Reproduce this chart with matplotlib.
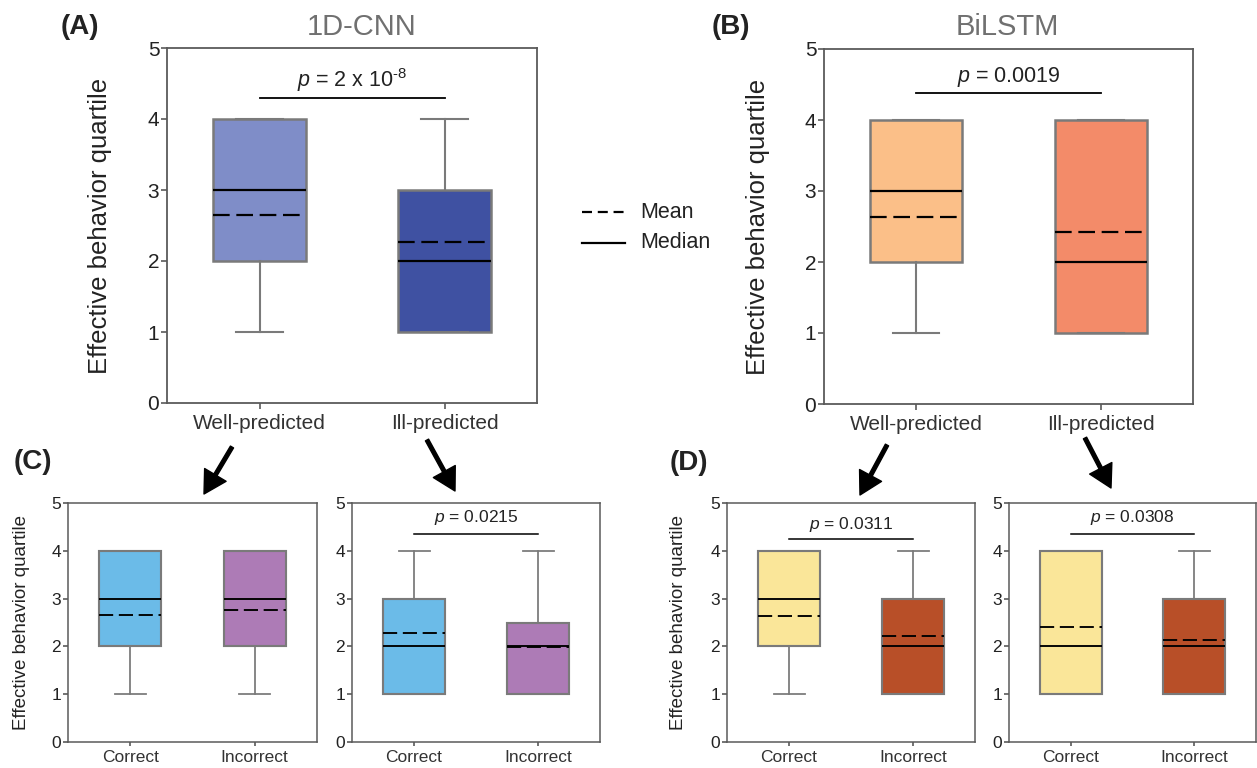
import matplotlib
matplotlib.use('Agg')
import matplotlib.pyplot as plt
from matplotlib.lines import Line2D

plt.rcParams['font.family'] = ['Liberation Sans', 'DejaVu Sans']
plt.rcParams['mathtext.fontset'] = 'custom'
plt.rcParams['mathtext.rm'] = 'Liberation Sans'
plt.rcParams['mathtext.it'] = 'Liberation Sans:italic'

# ---------------- data ----------------
top_categories = ['Well-predicted', 'Ill-predicted']
bottom_categories = ['Correct', 'Incorrect']

# (A) 1D-CNN
cnn_lo = [1, 1]
cnn_q1 = [2, 1]
cnn_med = [3, 2]
cnn_q3 = [4, 3]
cnn_hi = [4, 4]
cnn_mean = [2.65, 2.27]

# (B) BiLSTM
lstm_lo = [1, 1]
lstm_q1 = [2, 1]
lstm_med = [3, 2]
lstm_q3 = [4, 4]
lstm_hi = [4, 4]
lstm_mean = [2.64, 2.42]

# (C) 1D-CNN, well-predicted split
cw_lo = [1, 1]
cw_q1 = [2, 2]
cw_med = [3, 3]
cw_q3 = [4, 4]
cw_hi = [4, 4]
cw_mean = [2.66, 2.76]

# (C) 1D-CNN, ill-predicted split
ci_lo = [1, 1]
ci_q1 = [1, 1]
ci_med = [2, 2]
ci_q3 = [3, 2.5]
ci_hi = [4, 4]
ci_mean = [2.27, 1.99]

# (D) BiLSTM, well-predicted split
dw_lo = [1, 1]
dw_q1 = [2, 1]
dw_med = [3, 2]
dw_q3 = [4, 3]
dw_hi = [4, 4]
dw_mean = [2.64, 2.22]

# (D) BiLSTM, ill-predicted split
di_lo = [1, 1]
di_q1 = [1, 1]
di_med = [2, 2]
di_q3 = [4, 3]
di_hi = [4, 4]
di_mean = [2.41, 2.13]

p_texts = [r'$p$ = 2 x 10$^{\text{-8}}$', r'$p$ = 0.0019', None,
           r'$p$ = 0.0215', r'$p$ = 0.0311', r'$p$ = 0.0308']

cnn_colors = ['#7f8dc8', '#3f51a2']
lstm_colors = ['#fbbf88', '#f38b69']
c_colors = ['#6bbbe8', '#ad7bb6']
d_colors = ['#fae699', '#b84f28']

# ---------------- figure ----------------
W, H = 1257, 768
fig = plt.figure(figsize=(W / 100, H / 100), dpi=100)

EDGE = '#7a7a7a'
SPINE = '#5a5a5a'


def rect(l, r, t, b):
    return [l / W, 1 - b / H, (r - l) / W, (b - t) / H]


def make_stats(lo, q1, med, q3, hi, mean, labels):
    return [dict(whislo=lo[i], q1=q1[i], med=med[i], q3=q3[i], whishi=hi[i],
                 mean=mean[i], label=labels[i]) for i in range(len(labels))]


def panel(ax, stats, colors, big, ptext=None, py=None, ty=None, ylabel_x=-0.15):
    scale = 1.0 if big else 0.85
    bp = ax.bxp(stats, positions=[0, 1], widths=0.5, patch_artist=True,
                showmeans=True, meanline=True, showfliers=False, capwidths=0.25,
                boxprops=dict(edgecolor=EDGE, linewidth=1.8 * scale),
                whiskerprops=dict(color=EDGE, linewidth=1.5 * scale),
                capprops=dict(color=EDGE, linewidth=1.5 * scale),
                medianprops=dict(color='black', linewidth=1.6 * scale),
                meanprops=dict(color='black', linewidth=1.6 * scale,
                               linestyle=(0, (7.5, 3))))
    for patch, c in zip(bp['boxes'], colors):
        patch.set_facecolor(c)
    ax.set_xlim(-0.5, 1.5)
    ax.set_ylim(0, 5)
    ax.set_yticks(range(6))
    fs_tick = 15 if big else 12.5
    ax.tick_params(axis='y', labelsize=fs_tick, length=4 if big else 3.5,
                   width=1.2, color=SPINE, pad=1.5, labelcolor='#222222')
    ax.tick_params(axis='x', labelsize=fs_tick, length=4 if big else 3,
                   width=1.2, color=SPINE, pad=4 if big else 2.5,
                   labelcolor='#333333')
    for s in ax.spines.values():
        s.set_color(SPINE)
        s.set_linewidth(1.3 if big else 1.1)
    if ylabel_x is not None:
        ax.set_ylabel('Effective behavior quartile', fontsize=18.5 if big else 13.5,
                      color='#222222')
        ax.yaxis.set_label_coords(ylabel_x, 0.5)
    if ptext:
        ax.plot([0, 1], [py, py], color='black', lw=1.3 if big else 1.1)
        ax.text(0.5, ty, ptext, ha='center', va='center',
                fontsize=15.5 if big else 12.5, color='#222222')
    return bp


axA = fig.add_axes(rect(167, 537, 48, 403))
panel(axA, make_stats(cnn_lo, cnn_q1, cnn_med, cnn_q3, cnn_hi, cnn_mean, top_categories),
      cnn_colors, True, p_texts[0], 4.3, 4.55, ylabel_x=-0.149)

axB = fig.add_axes(rect(824, 1193, 49, 404))
panel(axB, make_stats(lstm_lo, lstm_q1, lstm_med, lstm_q3, lstm_hi, lstm_mean, top_categories),
      lstm_colors, True, p_texts[1], 4.38, 4.6, ylabel_x=-0.146)

axC1 = fig.add_axes(rect(68, 317, 503, 742))
panel(axC1, make_stats(cw_lo, cw_q1, cw_med, cw_q3, cw_hi, cw_mean, bottom_categories),
      c_colors, False, None, ylabel_x=-0.153)

axC2 = fig.add_axes(rect(352, 600, 503, 742))
panel(axC2, make_stats(ci_lo, ci_q1, ci_med, ci_q3, ci_hi, ci_mean, bottom_categories),
      c_colors, False, p_texts[3], 4.35, 4.69, ylabel_x=None)

axD1 = fig.add_axes(rect(727, 975, 503, 742))
panel(axD1, make_stats(dw_lo, dw_q1, dw_med, dw_q3, dw_hi, dw_mean, bottom_categories),
      d_colors, False, p_texts[4], 4.25, 4.54, ylabel_x=-0.161)

axD2 = fig.add_axes(rect(1009, 1256, 503, 742))
panel(axD2, make_stats(di_lo, di_q1, di_med, di_q3, di_hi, di_mean, bottom_categories),
      d_colors, False, p_texts[5], 4.35, 4.69, ylabel_x=None)


def ftext(x, y, s, **kw):
    fig.text(x / W, 1 - y / H, s, **kw)


# panel letters and titles
ftext(80, 27, '(A)', ha='center', va='center', fontsize=20, fontweight='bold', color='#222222')
ftext(731, 27, '(B)', ha='center', va='center', fontsize=20, fontweight='bold', color='#222222')
ftext(33, 462, '(C)', ha='center', va='center', fontsize=20, fontweight='bold', color='#222222')
ftext(689, 463, '(D)', ha='center', va='center', fontsize=20, fontweight='bold', color='#222222')
ftext(362, 27, '1D-CNN', ha='center', va='center', fontsize=21, color='#707070')
ftext(1007, 27, 'BiLSTM', ha='center', va='center', fontsize=21, color='#707070')

# legend
fig.add_artist(Line2D([582 / W, 625 / W], [1 - 212 / H, 1 - 212 / H], transform=fig.transFigure,
                      color='black', lw=1.6, linestyle=(0, (4.5, 2.6))))
fig.add_artist(Line2D([582 / W, 625 / W], [1 - 243 / H, 1 - 243 / H], transform=fig.transFigure,
                      color='black', lw=1.6))
ftext(640, 212, 'Mean', ha='left', va='center', fontsize=15.5, color='#222222')
ftext(640, 243, 'Median', ha='left', va='center', fontsize=15.5, color='#222222')

# arrows
arrows = [((232, 447), (204, 494)), ((427, 440), (455, 491)),
          ((887, 445), (860, 495)), ((1085, 438), (1111, 488))]
for (tx, ty_), (hx, hy) in arrows:
    fig.add_artist(plt.Annotation('', xy=(hx, H - hy), xytext=(tx, H - ty_),
                                  xycoords='figure pixels', textcoords='figure pixels',
                                  arrowprops=dict(facecolor='black', edgecolor='black',
                                                  width=2.6, headwidth=18, headlength=16,
                                                  shrink=0)))

fig.savefig('out.png', dpi=100)
